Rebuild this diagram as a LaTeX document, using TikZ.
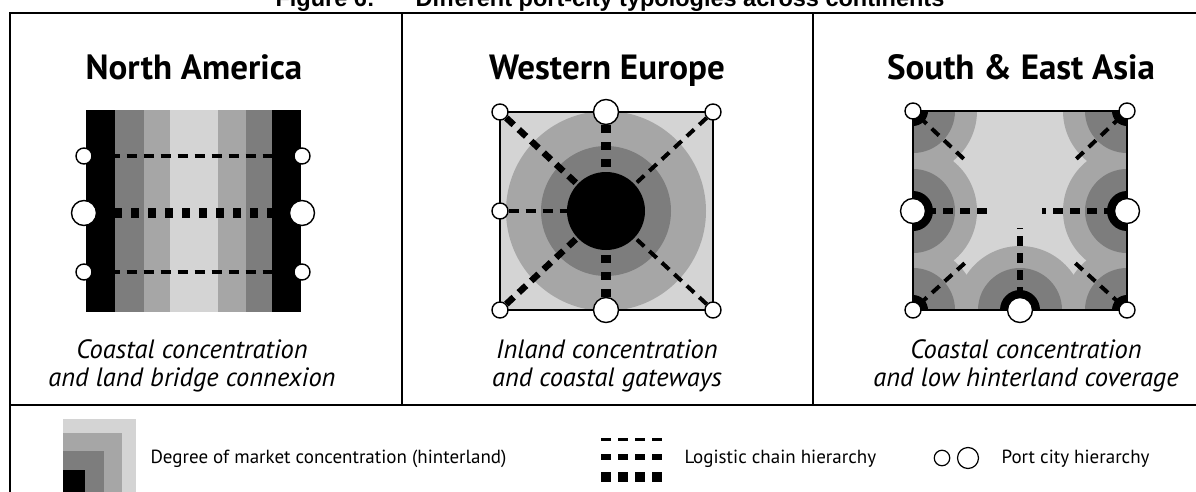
\documentclass[tikz,border=0pt]{standalone}
\usepackage{fontspec}
\setmainfont{PT Sans}
\newfontfamily\titlefont{Liberation Sans}

\begin{document}
\begin{tikzpicture}[x=1pt,y=-1pt,
    port/.style={circle,draw=black,fill=white,line width=1.4pt,inner sep=0pt},
    smallport/.style={port,minimum size=16pt},
    bigport/.style={port,minimum size=25pt},
    thinlink/.style={line width=4pt,dash pattern=on 10pt off 7pt},
    midlink/.style={line width=6.5pt,dash pattern=on 10pt off 7pt},
    thicklink/.style={line width=10pt,dash pattern=on 8pt off 9pt},
    heading/.style={font=\fontsize{35}{40}\selectfont\bfseries,anchor=base},
    caption/.style={font=\fontsize{26.5}{28}\selectfont\itshape,align=center,anchor=north},
    legendtext/.style={font=\fontsize{19}{22}\selectfont,anchor=base west}]

    \colorlet{lightzone}{black!17}
    \colorlet{midzone}{black!35}
    \colorlet{darkzone}{black!51}

    \useasboundingbox (0,0) rectangle (1196,492);

    \node[font=\titlefont\fontsize{23.5}{26}\selectfont\bfseries,anchor=base west] (fignum) at (272,6.5) {Figure 6:};
    \node[font=\titlefont\fontsize{23.5}{26}\selectfont\bfseries,anchor=base west] (figtitle) at (412,6.5) {Different port-city typologies across continents};

    \draw[line width=2.8pt] (10,495) -- (10,13) -- (1200,13);
    \draw[line width=2.8pt] (10,405) -- (1200,405);
    \draw[line width=2.8pt] (402,13) -- (402,405) (813,13) -- (813,405);

    % North America
    \node[heading] (natitle) at (194,80) {North America};
    \fill[black] (86,110) rectangle (301,312);
    \fill[darkzone] (115,110) rectangle (272,312);
    \fill[midzone] (144,110) rectangle (246,312);
    \fill[lightzone] (170,110) rectangle (218,312);
    \node[smallport] (naw1) at (84,156) {};
    \node[bigport] (naw2) at (84,213) {};
    \node[smallport] (naw3) at (84,272) {};
    \node[smallport] (nae1) at (302,156) {};
    \node[bigport] (nae2) at (302,213) {};
    \node[smallport] (nae3) at (302,272) {};
    \draw[thinlink] (naw1) -- (nae1);
    \draw[thicklink] (naw2) -- (nae2);
    \draw[thinlink] (naw3) -- (nae3);
    \node[caption] (nacap) at (192,336) {Coastal concentration\\and land bridge connexion};

    % Western Europe
    \node[heading] (wetitle) at (607,80) {Western Europe};
    \fill[lightzone] (500,112) rectangle (713,310);
    \fill[midzone] (606,211) circle (100pt);
    \fill[darkzone] (606,211) circle (65pt);
    \draw[line width=2pt] (500,112) rectangle (713,310);
    \node[circle,fill=black,minimum size=78pt,inner sep=0pt] (wecore) at (606,211) {};
    \node[smallport] (wetl) at (500,112) {};
    \node[bigport] (wetc) at (606,112) {};
    \node[smallport] (wetr) at (713,112) {};
    \node[smallport] (weml) at (500,211) {};
    \node[smallport] (webl) at (500,310) {};
    \node[bigport] (webc) at (606,310) {};
    \node[smallport] (webr) at (713,310) {};
    \draw[thicklink] (wetc) -- (wecore);
    \draw[thicklink] (webc) -- (wecore);
    \draw[midlink] (wetl) -- (wecore);
    \draw[midlink] (webl) -- (wecore);
    \draw[thinlink] (wetr) -- (wecore);
    \draw[thinlink] (webr) -- (wecore);
    \draw[thinlink] (weml) -- (wecore);
    \node[caption] (wecap) at (607,336) {Inland concentration\\and coastal gateways};

    % South & East Asia
    \node[heading] (astitle) at (1021,80) {South \& East Asia};
    \begin{scope}
        \clip (913,111) rectangle (1127,310);
        \fill[lightzone] (913,111) rectangle (1127,310);
        \foreach \px/\py in {913/111,1127/111,913/211,1127/211,913/310,1020/310,1127/310}
            \fill[midzone] (\px,\py) circle (64pt);
        \foreach \px/\py in {913/111,1127/111,913/211,1127/211,913/310,1020/310,1127/310}
            \fill[darkzone] (\px,\py) circle (42pt);
        \foreach \px/\py in {913/111,1127/111,913/310,1127/310}
            \fill[black] (\px,\py) circle (15pt);
        \foreach \px/\py in {913/211,1127/211,1020/310}
            \fill[black] (\px,\py) circle (20pt);
    \end{scope}
    \draw[line width=2pt] (913,111) rectangle (1127,310);
    \node[smallport] (astl) at (913,111) {};
    \node[smallport] (astr) at (1127,111) {};
    \node[bigport] (asml) at (913,211) {};
    \node[bigport] (asmr) at (1127,211) {};
    \node[smallport] (asbl) at (913,310) {};
    \node[bigport] (asbc) at (1020,310) {};
    \node[smallport] (asbr) at (1127,310) {};
    \coordinate (astlend) at (966,161);
    \coordinate (astrend) at (1074,161);
    \coordinate (asblend) at (966,262);
    \coordinate (asbrend) at (1074,262);
    \coordinate (asmlend) at (993,211);
    \coordinate (asmrend) at (1042,211);
    \coordinate (asbcend) at (1020,228);
    \draw[thinlink] (astl) -- (astlend);
    \draw[thinlink] (astr) -- (astrend);
    \draw[thinlink] (asbl) -- (asblend);
    \draw[thinlink] (asbr) -- (asbrend);
    \draw[midlink] (asml) -- (asmlend);
    \draw[midlink] (asmr) -- (asmrend);
    \draw[midlink] (asbc) -- (asbcend);
    \node[caption] (ascap) at (1026,336) {Coastal concentration\\and low hinterland coverage};

    % legend
    \fill[lightzone] (63,419) rectangle (136,492);
    \fill[midzone] (63,433) rectangle (122,492);
    \fill[darkzone] (63,451) rectangle (104,492);
    \fill[black] (63,470) rectangle (85,492);
    \node[legendtext] (hintext) at (147,463) {Degree of market concentration (hinterland)};
    \draw[line width=3pt,dash pattern=on 10pt off 7pt] (601,439) -- (662,439);
    \draw[line width=6pt,dash pattern=on 10pt off 7pt] (601,457) -- (662,457);
    \draw[line width=9.5pt,dash pattern=on 10pt off 7pt] (601,477) -- (662,477);
    \node[legendtext] (chaintext) at (681,463) {Logistic chain hierarchy};
    \node[circle,draw,line width=1.2pt,minimum size=15.5pt,inner sep=0pt] (smallkey) at (942,458) {};
    \node[circle,draw,line width=1.2pt,minimum size=21pt,inner sep=0pt] (bigkey) at (968,458) {};
    \node[legendtext] (porttext) at (998,463) {Port city hierarchy};

\end{tikzpicture}
\end{document}
